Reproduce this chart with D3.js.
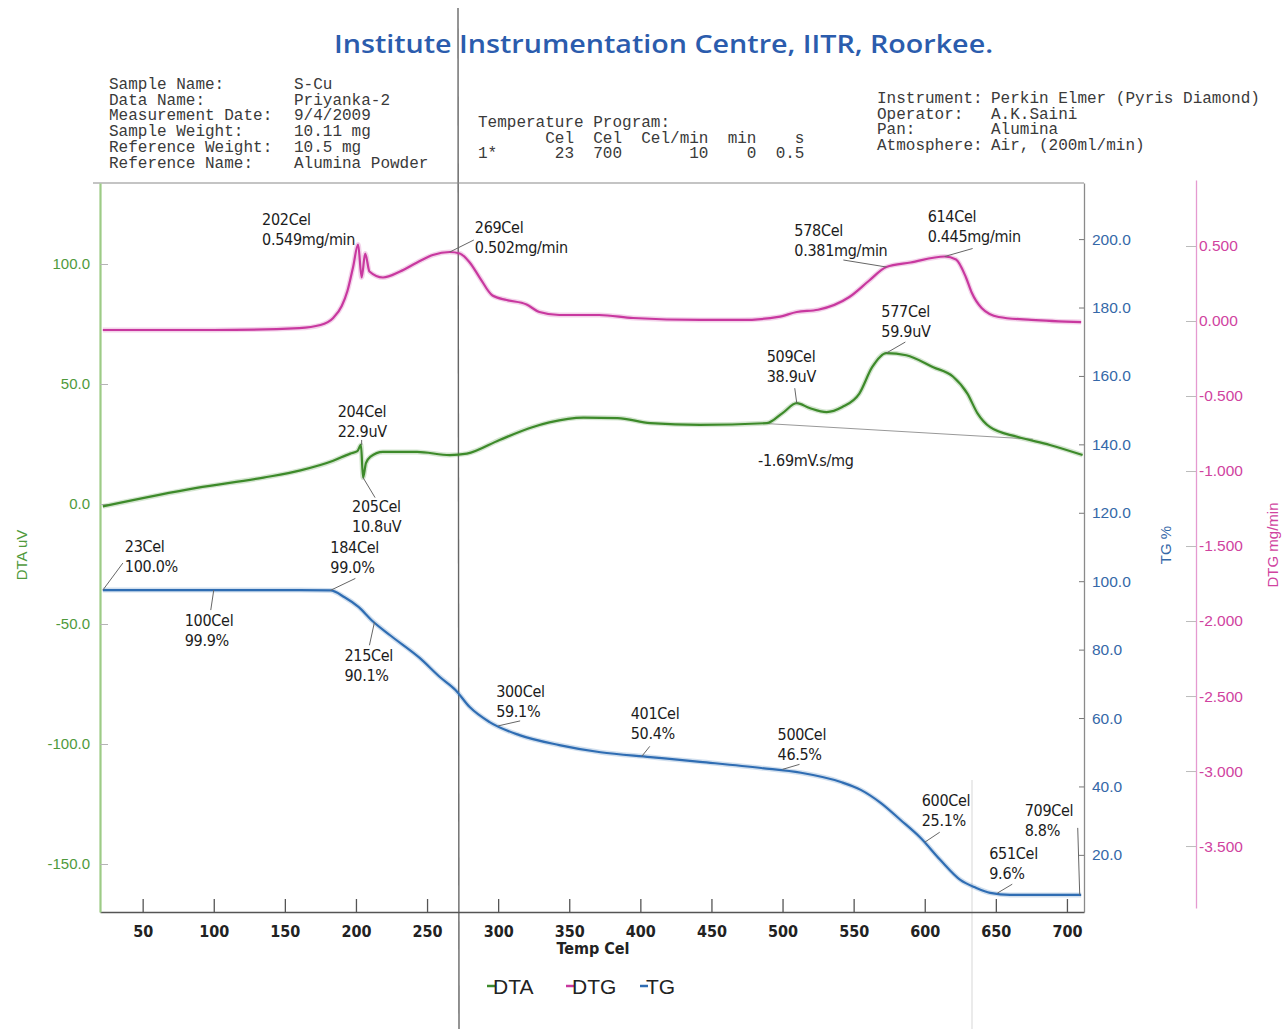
<!DOCTYPE html>
<html>
<head>
<meta charset="utf-8">
<script src="https://cdn.jsdelivr.net/npm/d3@7/dist/d3.min.js"></script>
<style>
body { margin:0; background:#fff; }
svg { display:block; }
.hdr { font-family:"Liberation Mono","DejaVu Sans Mono",monospace; font-size:16px; fill:#3a3a3a; }
.note { font-family:"DejaVu Sans Condensed","Liberation Sans Narrow",sans-serif; font-size:16px; fill:#1c1c1c; letter-spacing:-0.3px; }
.xt { font-family:"Liberation Sans Narrow","DejaVu Sans Condensed",sans-serif; font-size:16px; font-weight:bold; fill:#222; }
</style>
</head>
<body>
<svg id="chart" width="1282" height="1029"></svg>
<script>

// ---- data ----
const dtaT = [22, 88, 135, 161, 184, 196, 201, 203.5, 205, 207, 210, 219, 243, 266, 278, 301, 324, 336, 360, 384, 407, 442, 489, 500, 510, 519, 531, 542, 554, 563, 573, 587, 606, 620, 630, 637, 646, 665, 688, 711] ;
const dtaV = [-1, 6.7, 11, 14, 18, 21, 22, 24.6, 11, 17, 19.6, 21.7, 21.7, 20.4, 21, 26.7, 32, 34, 36, 35.8, 33.7, 33, 33.7, 37.9, 42, 40, 38.3, 40.4, 46, 57, 62.9, 62, 57, 53, 46, 37.9, 32, 28, 24.6, 20.4] ;

const dtgT = [22, 100, 160, 175, 184, 190, 194, 198, 201.5, 204, 206.5, 209.5, 219, 231, 243, 254, 266, 273, 280, 287, 296, 306, 320, 329, 343, 371, 395, 442, 470, 497, 510, 525, 547, 561, 573, 590, 614, 622, 629, 633, 640, 652, 675, 710] ;
const dtgV = [-0.06, -0.06, -0.047, -0.027, 0.02, 0.1, 0.2, 0.36, 0.51, 0.29, 0.45, 0.33, 0.29, 0.33, 0.39, 0.44, 0.46, 0.45, 0.39, 0.29, 0.17, 0.14, 0.11, 0.06, 0.04, 0.04, 0.02, 0.007, 0.007, 0.027, 0.06, 0.075, 0.16, 0.27, 0.36, 0.39, 0.43, 0.41, 0.29, 0.19, 0.087, 0.027, 0.007, -0.007] ;

const tgT = [22, 100, 160, 182, 192, 202, 211, 224, 245, 259, 270, 280, 294, 315, 343, 372, 407, 442, 485, 513, 541, 555, 569, 583, 597, 611, 625, 636, 646, 660, 710] ;
const tgV = [97.4, 97.4, 97.4, 97.3, 95.3, 92.4, 88.6, 84.2, 77.5, 72, 68.2, 63.2, 58.8, 55, 52.1, 50, 48.6, 47.2, 45.4, 44, 41.3, 39, 35.2, 30.2, 25, 18.5, 12.7, 10.4, 8.9, 8.3, 8.3] ;

// peak-area baseline on the DTA curve
const dtaBaseT = [489, 676] ;
const dtaBaseV = [33.5, 27] ;

// tick labels
const xTickLabels = [50, 100, 150, 200, 250, 300, 350, 400, 450, 500, 550, 600, 650, 700] ;
const dtaTickLabels = [100, 50, 0, -50, -100, -150] ;
const tgTickLabels = [200, 180, 160, 140, 120, 100, 80, 60, 40, 20] ;
const dtgTickLabels = [0.5, 0, -0.5, -1, -1.5, -2, -2.5, -3, -3.5] ;

// annotations : series, temperature, value, text
const noteSeries = ["dtg","dtg","dtg","dtg","dta","dta","dta","dta","dta","tg","tg","tg","tg","tg","tg","tg","tg","tg","tg"] ;
const noteT = [201.5, 266, 573, 614, 204, 205, 510, 573, 532, 22, 100, 182, 213, 300, 401, 500, 600, 651, 709] ;
const noteV = [0.51, 0.46, 0.36, 0.43, 24.6, 11, 42, 62.9, 32, 97.4, 97.4, 97.3, 88, 57.7, 48.8, 45, 23.7, 8.8, 8.3] ;
const noteText = [
	["202Cel","0.549mg/min"], ["269Cel","0.502mg/min"], ["578Cel","0.381mg/min"], ["614Cel","0.445mg/min"],
	["204Cel","22.9uV"], ["205Cel","10.8uV"], ["509Cel","38.9uV"], ["577Cel","59.9uV"], ["-1.69mV.s/mg"],
	["23Cel","100.0%"], ["100Cel","99.9%"], ["184Cel","99.0%"], ["215Cel","90.1%"], ["300Cel","59.1%"],
	["401Cel","50.4%"], ["500Cel","46.5%"], ["600Cel","25.1%"], ["651Cel","9.6%"], ["709Cel","8.8%"]
] ;

// header text
const hdrLeftKeys = ["Sample Name:", "Data Name:", "Measurement Date:", "Sample Weight:", "Reference Weight:", "Reference Name:"] ;
const hdrLeftVals = ["S-Cu", "Priyanka-2", "9/4/2009", "10.11 mg", "10.5 mg", "Alumina Powder"] ;
const hdrProg = ["Temperature Program:", "       Cel  Cel  Cel/min  min    s", "1*      23  700       10    0  0.5"] ;
const hdrRightKeys = ["Instrument:", "Operator:", "Pan:", "Atmosphere:"] ;
const hdrRightVals = ["Perkin Elmer (Pyris Diamond)", "A.K.Saini", "Alumina", "Air, (200ml/min)"] ;


// ---- layout ----
const svg = d3.select("#chart") ;
const plot = { left:100, right:1084, top:183, bottom:912 } ;
const cDTA = "#3d8a2a", cDTG = "#c8389f", cTG = "#2f6db3" ;

const x = d3.scaleLinear().domain([20, 712]).range([plot.left, plot.right]) ;
const yDTA = d3.scaleLinear().domain([-170, 133.75]).range([plot.bottom, plot.top]) ;
const yTG = d3.scaleLinear().domain([3.3, 216.4]).range([plot.bottom, plot.top]) ;
const yDTG = d3.scaleLinear().domain([-3.913, 0.94]).range([908, 180]) ;
const yOf = { dta:yDTA, dtg:yDTG, tg:yTG } ;

// scan fold lines
svg.append("line").attr("x1",458).attr("x2",459).attr("y1",8).attr("y2",1029)
	.attr("stroke","#666").attr("stroke-width",1.4) ;
svg.append("line").attr("x1",972).attr("x2",972).attr("y1",780).attr("y2",1029)
	.attr("stroke","#e4e4e4").attr("stroke-width",1.5) ;

// title
svg.append("text")
	.attr("x",334).attr("y",53)
	.attr("textLength",659).attr("lengthAdjust","spacingAndGlyphs")
	.style("font-family","'Open Sans','DejaVu Sans',sans-serif")
	.style("font-size","26px").style("font-weight","600")
	.style("fill","#2b5cad")
	.text("Institute Instrumentation Centre, IITR, Roorkee.") ;

// header blocks
const hdr = svg.append("g") ;
hdrLeftKeys.forEach( function(k,i) {
	hdr.append("text").attr("class","hdr").attr("x",109).attr("y",89+i*15.7).text(k) ;
	hdr.append("text").attr("class","hdr").attr("x",294).attr("y",89+i*15.7).text(hdrLeftVals[i]) ;
}) ;
hdrProg.forEach( function(s,i) {
	hdr.append("text").attr("class","hdr").attr("x",478).attr("y",127+i*15.7)
		.attr("xml:space","preserve").style("white-space","pre").text(s) ;
}) ;
hdrRightKeys.forEach( function(k,i) {
	hdr.append("text").attr("class","hdr").attr("x",877).attr("y",103+i*15.7).text(k) ;
	hdr.append("text").attr("class","hdr").attr("x",991).attr("y",103+i*15.7).text(hdrRightVals[i]) ;
}) ;

// top frame line
svg.append("line").attr("x1",93).attr("x2",plot.right).attr("y1",plot.top).attr("y2",plot.top)
	.attr("stroke","#8a8a8a").attr("stroke-width",1.2) ;

// ---- axes ----
const fmt1 = function(d) { return d.toFixed(1) ; } ;
const fmt3 = function(d) { return d.toFixed(3) ; } ;

// bottom
const gx = svg.append("g").attr("transform","translate(0,"+plot.bottom+")") ;
gx.call( d3.axisBottom(x).tickValues(d3.range(25, 701, 25)).tickSizeInner(-7).tickSizeOuter(0).tickFormat("") ) ;
gx.call( d3.axisBottom(x).tickValues(xTickLabels).tickSizeInner(-13).tickSizeOuter(0).tickPadding(14) ) ;
gx.selectAll("path,line").attr("stroke","#555").attr("stroke-width",1.3) ;
gx.selectAll("text").attr("class","xt").style("font-size",null).style("font-family",null) ;
svg.append("text").attr("class","xt").attr("x",593).attr("y",954).attr("text-anchor","middle").text("Temp Cel") ;

// left DTA
const gl = svg.append("g").attr("transform","translate("+plot.left+",0)") ;
gl.call( d3.axisLeft(yDTA).tickValues(d3.range(-150, 126, 25)).tickSizeInner(-8).tickSizeOuter(0).tickFormat("") ) ;
gl.call( d3.axisLeft(yDTA).tickValues(dtaTickLabels).tickSizeInner(-8).tickSizeOuter(0).tickPadding(10).tickFormat(fmt1) ) ;
gl.select(".domain").attr("stroke","#9dcb86").attr("stroke-width",2.2) ;
gl.selectAll(".tick line").attr("stroke","#b5b5b5") ;
gl.selectAll("text").style("font-family","'Liberation Sans',Arial,sans-serif").style("font-size","15px").style("fill","#4f9a3c") ;
svg.append("text").attr("transform","translate(27,555) rotate(-90)").attr("text-anchor","middle")
	.style("font-family","'Liberation Sans',Arial,sans-serif").style("font-size","15px").style("fill","#4f9a3c").text("DTA uV") ;

// right TG
const gt = svg.append("g").attr("transform","translate("+plot.right+",0)") ;
gt.call( d3.axisRight(yTG).tickValues(d3.range(10, 211, 10)).tickSizeInner(-5).tickSizeOuter(0).tickFormat("") ) ;
gt.call( d3.axisRight(yTG).tickValues(tgTickLabels).tickSizeInner(-5).tickSizeOuter(0).tickPadding(8).tickFormat(fmt1) ) ;
gt.select(".domain").attr("stroke","#8a8a8a").attr("stroke-width",1.3) ;
gt.selectAll(".tick line").attr("stroke","#777") ;
gt.selectAll("text").style("font-family","'Liberation Sans',Arial,sans-serif").style("font-size","15.5px").style("fill","#3568a8") ;
svg.append("text").attr("transform","translate(1171,545) rotate(-90)").attr("text-anchor","middle")
	.style("font-family","'Liberation Sans',Arial,sans-serif").style("font-size","15px").style("fill","#3568a8").text("TG %") ;

// far right DTG
const gd = svg.append("g").attr("transform","translate(1196,0)") ;
gd.call( d3.axisRight(yDTG).tickValues(d3.range(-3.75, 0.76, 0.25)).tickSizeInner(-10).tickSizeOuter(0).tickFormat("") ) ;
gd.call( d3.axisRight(yDTG).tickValues(dtgTickLabels).tickSizeInner(-10).tickSizeOuter(0).tickPadding(3).tickFormat(fmt3) ) ;
gd.select(".domain").attr("stroke","#e59ad0").attr("stroke-width",1.3) ;
gd.selectAll(".tick line").attr("stroke","#bbb") ;
gd.selectAll("text").style("font-family","'Liberation Sans',Arial,sans-serif").style("font-size","15.5px").style("fill","#d0439f") ;
svg.append("text").attr("transform","translate(1278,545) rotate(-90)").attr("text-anchor","middle")
	.style("font-family","'Liberation Sans',Arial,sans-serif").style("font-size","15px").style("fill","#d0439f").text("DTG mg/min") ;

// ---- curves ----
function drawCurve( ts, vs, yScale, color ) {
	const pts = ts.map( function(t,i) { return [t, vs[i]] ; } ) ;
	const line = d3.line()
		.x( function(d) { return x(d[0]) ; } )
		.y( function(d) { return yScale(d[1]) ; } )
		.curve( d3.curveMonotoneX ) ;
	svg.append("path").datum(pts).attr("d",line)
		.attr("fill","none").attr("stroke",color).attr("stroke-width",5).attr("stroke-opacity",0.22) ;
	svg.append("path").datum(pts).attr("d",line)
		.attr("fill","none").attr("stroke",color).attr("stroke-width",2.2).attr("stroke-linejoin","round") ;
}

// baseline
svg.append("line")
	.attr("x1",x(dtaBaseT[0])).attr("y1",yDTA(dtaBaseV[0]))
	.attr("x2",x(dtaBaseT[1])).attr("y2",yDTA(dtaBaseV[1]))
	.attr("stroke","#999").attr("stroke-width",1) ;

drawCurve( dtgT, dtgV, yDTG, cDTG ) ;
drawCurve( dtaT, dtaV, yDTA, cDTA ) ;
drawCurve( tgT, tgV, yTG, cTG ) ;

// ---- annotations ----
// text offset (first line baseline) and leader end, relative to anchor point
const noteDx = [-96, 25, -92, -17, -24, -11, -30, -5, -70, 22, -29, 0, -30, -2, -11, -5, -3, -8, -55] ;
const noteDy = [-20, -19, -31, -35, -28, 34, -41, -36, 39, -38, 36, -37, 39, -29, -37, -29, -36, -34, -79] ;
const leadDx = [0, 24, -43, 28, 0, 12, -2, 19, 0, 20, -3, 25, -5, 22, 8, 17, 15, 15, -2] ;
const leadDy = [0, -12, -7, -8, -5, 20, -15, -11, 0, -27, 20, -12, 23, -5, -10, -5, -10, -9, -67] ;

const notes = svg.append("g") ;
noteText.forEach( function(lines,i) {
	const ax = x(noteT[i]), ay = yOf[noteSeries[i]](noteV[i]) ;
	if( leadDx[i] || leadDy[i] ) {
		notes.append("line").attr("x1",ax).attr("y1",ay)
			.attr("x2",ax+leadDx[i]).attr("y2",ay+leadDy[i])
			.attr("stroke","#666").attr("stroke-width",1) ;
	}
	const t = notes.append("text").attr("class","note") ;
	lines.forEach( function(s,j) {
		t.append("tspan").attr("x",ax+noteDx[i]).attr("y",ay+noteDy[i]+j*20).text(s) ;
	}) ;
}) ;

// ---- legend ----
const legNames = ["DTA","DTG","TG"] ;
const legColors = [cDTA, cDTG, cTG] ;
const legX = [487, 566, 640] ;
legNames.forEach( function(n,i) {
	svg.append("line").attr("x1",legX[i]).attr("x2",legX[i]+8).attr("y1",986).attr("y2",986)
		.attr("stroke",legColors[i]).attr("stroke-width",2.5) ;
	svg.append("text").attr("x",legX[i]+6).attr("y",994)
		.style("font-family","'Liberation Sans',Arial,sans-serif").style("font-size","21px").style("fill","#222")
		.text(n) ;
}) ;

</script>
</body>
</html>
